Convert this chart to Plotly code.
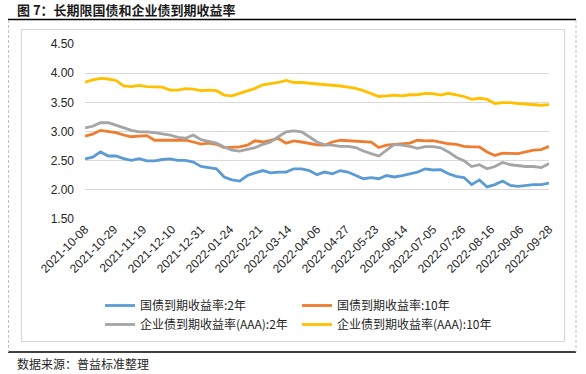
import plotly.graph_objects as go

# ---------------- data ----------------
# trading-day index of each sample (0 = 2021-10-08, 240 = 2022-09-28)
trade_day = [0, 4, 8, 12, 16, 20, 24, 28, 32, 36, 40, 44, 48, 52, 56, 60,
             64, 68, 72, 76, 80, 84, 88, 92, 96, 100, 104, 108, 112, 116, 120,
             124, 128, 132, 136, 140, 144, 148, 152, 156, 160, 164, 168, 172, 176, 180,
             184, 188, 192, 196, 200, 204, 208, 212, 216, 220, 224, 228, 232, 236, 240]

tick_labels = ["2021-10-08", "2021-10-29", "2021-11-19", "2021-12-10", "2021-12-31",
               "2022-01-24", "2022-02-21", "2022-03-14", "2022-04-06", "2022-04-27",
               "2022-05-23", "2022-06-14", "2022-07-05", "2022-07-26", "2022-08-16",
               "2022-09-06", "2022-09-28"]
tick_step_days = 15

govt_2y = [2.53, 2.56, 2.65, 2.58, 2.58, 2.535, 2.505, 2.535, 2.495, 2.495, 2.52, 2.53, 2.505, 2.505, 2.475, 2.40,
           2.38, 2.36, 2.22, 2.17, 2.15, 2.245, 2.29, 2.33, 2.29, 2.305, 2.305, 2.36, 2.36, 2.33, 2.26,
           2.305, 2.275, 2.33, 2.305, 2.245, 2.19, 2.21, 2.19, 2.245, 2.22, 2.245, 2.275, 2.305, 2.36, 2.34,
           2.345, 2.275, 2.23, 2.21, 2.09, 2.17, 2.05, 2.09, 2.15, 2.075, 2.06, 2.075, 2.09, 2.09, 2.115]

govt_10y = [2.92, 2.955, 3.02, 2.995, 2.98, 2.94, 2.91, 2.92, 2.93, 2.85, 2.85, 2.86, 2.86, 2.85, 2.82, 2.785,
            2.80, 2.78, 2.725, 2.725, 2.735, 2.765, 2.84, 2.82, 2.85, 2.88, 2.80, 2.84, 2.82, 2.79, 2.77,
            2.765, 2.82, 2.85, 2.84, 2.84, 2.82, 2.82, 2.725, 2.765, 2.78, 2.79, 2.80, 2.85, 2.84, 2.845,
            2.82, 2.79, 2.78, 2.745, 2.735, 2.735, 2.65, 2.59, 2.63, 2.63, 2.62, 2.65, 2.68, 2.69, 2.745]

corp_aaa_2y = [3.063, 3.09, 3.15, 3.15, 3.11, 3.07, 3.02, 2.995, 2.995, 2.98, 2.955, 2.94, 2.90, 2.885, 2.94, 2.86,
               2.83, 2.80, 2.735, 2.68, 2.665, 2.69, 2.725, 2.78, 2.82, 2.91, 2.995, 3.01, 2.995, 2.91, 2.82,
               2.77, 2.765, 2.745, 2.745, 2.725, 2.665, 2.62, 2.58, 2.68, 2.78, 2.765, 2.745, 2.71, 2.74, 2.74,
               2.72, 2.65, 2.56, 2.50, 2.40, 2.43, 2.36, 2.40, 2.47, 2.43, 2.41, 2.40, 2.40, 2.38, 2.45]

corp_aaa_10y = [3.845, 3.885, 3.91, 3.90, 3.875, 3.78, 3.77, 3.79, 3.77, 3.76, 3.76, 3.71, 3.71, 3.735, 3.725, 3.70,
                3.71, 3.70, 3.625, 3.61, 3.655, 3.70, 3.74, 3.80, 3.815, 3.84, 3.875, 3.84, 3.84, 3.83, 3.81,
                3.80, 3.795, 3.78, 3.76, 3.74, 3.70, 3.645, 3.60, 3.61, 3.625, 3.61, 3.63, 3.63, 3.655, 3.65,
                3.625, 3.655, 3.625, 3.60, 3.55, 3.57, 3.55, 3.48, 3.495, 3.495, 3.48, 3.47, 3.455, 3.45, 3.46]

series_names = ["国债到期收益率:2年", "国债到期收益率:10年",
                "企业债到期收益率(AAA):2年", "企业债到期收益率(AAA):10年"]
series_values = [govt_2y, govt_10y, corp_aaa_2y, corp_aaa_10y]
series_colors = ["#5B9BD5", "#ED7D31", "#A5A5A5", "#FFC000"]

y_ticks = [1.5, 2.0, 2.5, 3.0, 3.5, 4.0, 4.5]

# ---------------- layout geometry (pixels) ----------------
W, H = 586, 374
L, R, T, B = 85, 37, 44, 155
PW, PH = W - L - R, H - T - B


def px_x(p):
    return (p - L) / PW


def px_y(p):
    return (T + PH - p) / PH


fig = go.Figure()
for name, vals, col in zip(series_names, series_values, series_colors):
    fig.add_trace(go.Scatter(x=trade_day, y=vals, mode="lines", name=name,
                             line=dict(color=col, width=2.8)))

tick_vals = [i * tick_step_days for i in range(len(tick_labels))]

fig.update_layout(
    width=W, height=H,
    margin=dict(l=L, r=R, t=T, b=B, pad=0),
    paper_bgcolor="white", plot_bgcolor="white",
    font=dict(family="Liberation Sans, Arial, sans-serif", color="#262626"),
    showlegend=True,
    legend=dict(orientation="h", x=px_x(100), y=px_y(291), xanchor="left", yanchor="top",
                font=dict(family="Noto Sans CJK SC", size=12, color="#262626"),
                entrywidth=152, entrywidthmode="pixels", bgcolor="rgba(0,0,0,0)",
                tracegroupgap=0, itemwidth=30),
)
fig.update_xaxes(range=[0, 240], tickmode="array", tickvals=tick_vals, ticktext=tick_labels,
                 tickangle=-45, tickfont=dict(size=12, color="#262626"), showgrid=False,
                 zeroline=False, showline=False, ticks="")
fig.update_yaxes(range=[1.5, 4.5], tickmode="array", tickvals=y_ticks,
                 ticktext=[f"{v:.2f}" for v in y_ticks], tickfont=dict(size=12, color="#262626"),
                 showgrid=True, gridcolor="#D9D9D9", gridwidth=1, zeroline=False,
                 showline=False, ticks="", ticklabelstandoff=10)

shapes = [
    # title underline
    dict(type="line", xref="paper", yref="paper", x0=px_x(8), x1=px_x(576), y0=px_y(19.5), y1=px_y(19.5),
         line=dict(color="black", width=1.5)),
    # bottom rule
    dict(type="line", xref="paper", yref="paper", x0=px_x(8), x1=px_x(576), y0=px_y(352), y1=px_y(352),
         line=dict(color="black", width=1.5)),
    # dashed sides
    dict(type="line", xref="paper", yref="paper", x0=px_x(8.5), x1=px_x(8.5), y0=px_y(20), y1=px_y(352),
         line=dict(color="#BFBFBF", width=1, dash="3px,2px")),
    dict(type="line", xref="paper", yref="paper", x0=px_x(576), x1=px_x(576), y0=px_y(20), y1=px_y(352),
         line=dict(color="#BFBFBF", width=1, dash="3px,2px")),
    # chart frame
    dict(type="rect", xref="paper", yref="paper", x0=px_x(21.5), x1=px_x(564.5), y0=px_y(29.5), y1=px_y(341.5),
         line=dict(color="#D9D9D9", width=1.2), layer="below"),
]
fig.update_layout(shapes=shapes)

fig.add_annotation(text="<b>图 7：长期限国债和企业债到期收益率</b>", xref="paper", yref="paper",
                   x=px_x(15), y=px_y(10), xanchor="left", yanchor="middle", showarrow=False,
                   font=dict(family="Noto Sans CJK SC", size=13, color="#1a1a1a"))
fig.add_annotation(text="数据来源：普益标准整理", xref="paper", yref="paper",
                   x=px_x(15), y=px_y(363), xanchor="left", yanchor="middle", showarrow=False,
                   font=dict(family="Noto Sans CJK SC", size=12, color="#262626"))

fig.write_html("out.html", config={"displayModeBar": False},
               post_script="document.body.style.margin='0';document.body.style.overflow='hidden';")
